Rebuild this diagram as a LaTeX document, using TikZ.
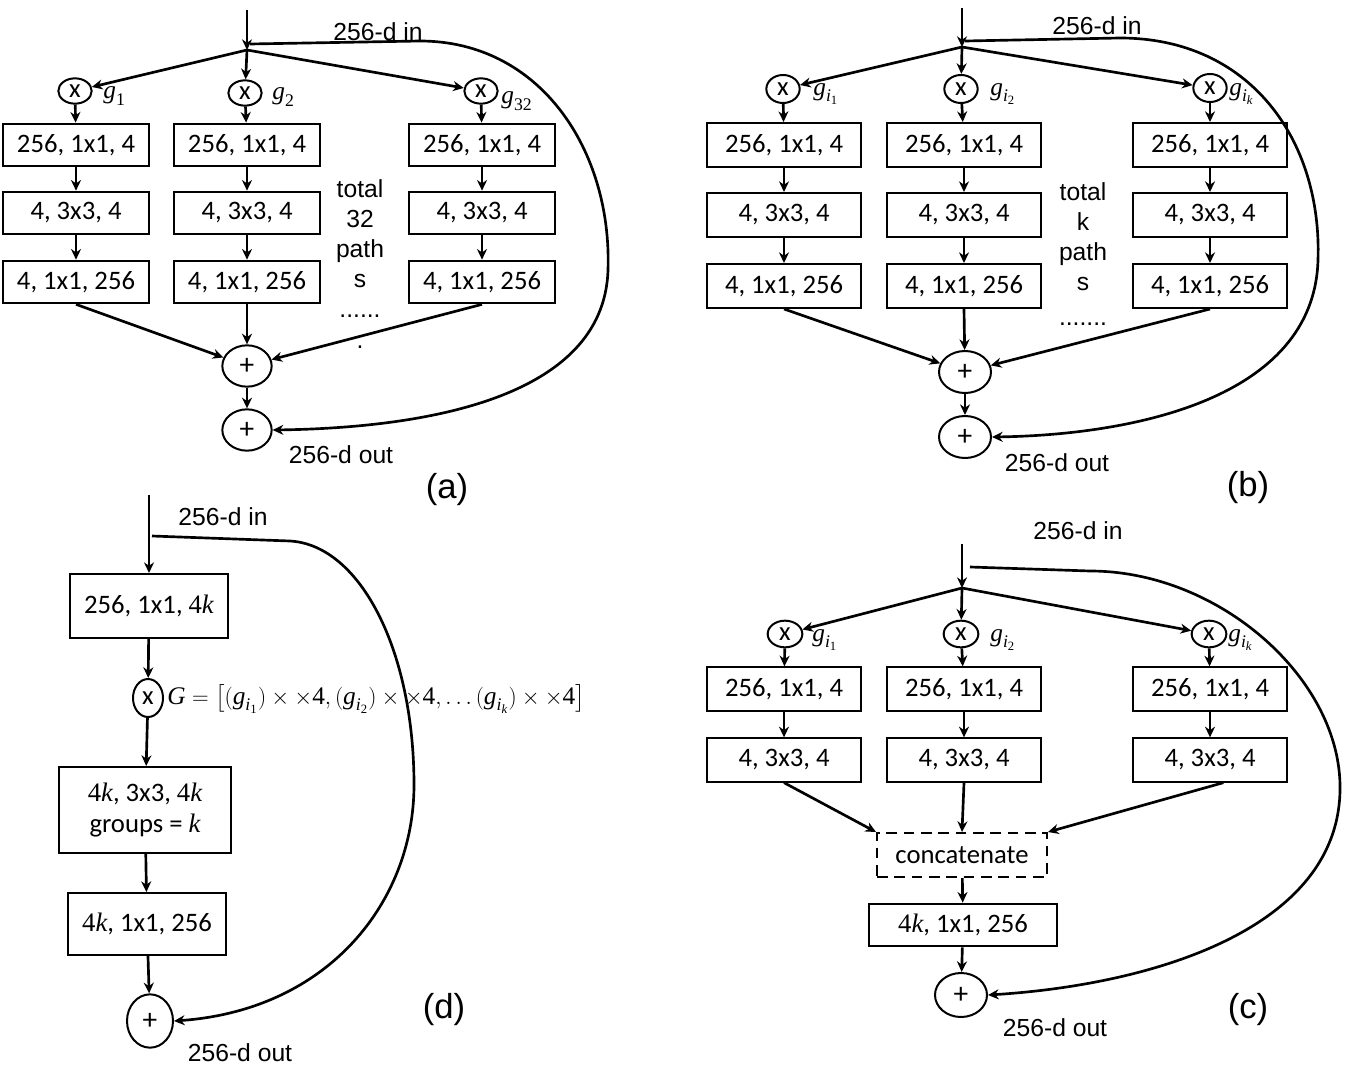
\documentclass[tikz,border=0pt]{standalone}
\usepackage{amsmath}
\usepackage{fontspec}
\setmainfont{Carlito}
\newfontfamily\arialfont{Liberation Sans}
\newfontfamily\serif{Liberation Serif}
\usetikzlibrary{arrows.meta,shapes.geometric}

\newcommand{\boxfont}{\fontsize{20}{23}\selectfont}
\newcommand{\plusfont}{\fontsize{22}{24}\selectfont}
\newcommand{\lblfont}{\arialfont\fontsize{18.5}{22.5}\selectfont}
\newcommand{\capfont}{\arialfont\fontsize{26}{30}\selectfont}
% italic letters and upright digits in the serif face
\newcommand{\iv}[1]{\text{\serif\itshape #1}}
\newcommand{\rv}[1]{\text{\serif #1}}

\tikzset{
  layer/.style 2 args={draw, line width=1.5pt, font=\boxfont, inner sep=0pt,
    minimum width=#1, minimum height=#2, align=center},
  gate/.style 2 args={draw, ellipse, line width=1.5pt, font=\boxfont, inner sep=0pt,
    minimum width=#1, minimum height=#2},
  add/.style 2 args={draw, ellipse, line width=1.5pt, font=\plusfont, inner sep=0pt,
    minimum width=#1, minimum height=#2},
  lbl/.style={font=\lblfont, inner sep=0pt},
  glbl/.style={font=\fontsize{19}{22}\selectfont, inner sep=0pt, anchor=west},
}

\begin{document}
\begin{tikzpicture}[x=0.75pt,y=-0.75pt,->,>={Stealth[length=8pt,width=7.5pt]},line width=2pt]
    \useasboundingbox (0,0) rectangle (1345,1081);

    % (a) Nodes
    \coordinate (inA) at (247,10);
    \coordinate (brA) at (247,50);
    \coordinate (skA) at (250,44);
    \node[lbl] (inlA) at (378,32) {256-d in};
    \node[gate={25pt}{19pt}] (xa1) at (75,91) {x};
    \node[gate={25pt}{19pt}] (xa2) at (245,93) {x};
    \node[gate={25pt}{19pt}] (xa3) at (481,91) {x};
    \node[glbl] (ga1) at (102,96) {$\iv{g}_{\rv{1}}$};
    \node[glbl] (ga2) at (271,97) {$\iv{g}_{\rv{2}}$};
    \node[glbl] (ga3) at (500,101) {$\iv{g}_{\rv{32}}$};

    \node[layer={109pt}{32pt}] (a11) at (76,145) {256, 1x1, 4};
    \node[layer={109pt}{32pt}] (a12) at (247,145) {256, 1x1, 4};
    \node[layer={109pt}{32pt}] (a13) at (482,145) {256, 1x1, 4};
    \node[layer={109pt}{32pt}] (a21) at (76,213) {4, 3x3, 4};
    \node[layer={109pt}{32pt}] (a22) at (247,213) {4, 3x3, 4};
    \node[layer={109pt}{32pt}] (a23) at (482,213) {4, 3x3, 4};
    \node[layer={109pt}{32pt}] (a31) at (76,282) {4, 1x1, 256};
    \node[layer={109pt}{32pt}] (a32) at (247,282) {4, 1x1, 256};
    \node[layer={109pt}{32pt}] (a33) at (482,282) {4, 1x1, 256};
    \node[lbl, align=center] (totA) at (360,234) {total\\32\\path\\s};
    \node[lbl] (dotA1) at (360,316) {......};
    \node[lbl] (dotA2) at (360,347) {.};

    \node[add={37pt}{31pt}] (pa1) at (247,366) {+};
    \node[add={37pt}{31pt}] (pa2) at (247,430) {+};
    \node[lbl] (outA) at (341,455) {256-d out};
    \node[font=\capfont] (capA) at (447,490) {(a)};

    % (a) Arrows
    \draw (inA) -- (brA);
    \draw (brA) -- (xa1);
    \draw (brA) -- (xa2);
    \draw (brA) -- (xa3);
    \draw (xa1) -- (a11);
    \draw (xa2) -- (a12);
    \draw (xa3) -- (a13);
    \draw (a11) -- (a21);
    \draw (a12) -- (a22);
    \draw (a13) -- (a23);
    \draw (a21) -- (a31);
    \draw (a22) -- (a32);
    \draw (a23) -- (a33);
    \draw (a31.south) -- (pa1);
    \draw (a32.south) -- (pa1);
    \draw (a33.south) -- (pa1);
    \draw (pa1) -- (pa2);
    \draw (skA) -- (420,41) .. controls (540,41) and (612,150) .. (608,270)
      .. controls (604,400) and (420,428) .. (pa2.east);

    % (b) Nodes
    \coordinate (inB) at (962,8);
    \coordinate (brB) at (962,47);
    \coordinate (skB) at (965,41);
    \node[lbl] (inlB) at (1097,26) {256-d in};
    \node[gate={25pt}{21pt}] (xb1) at (783,89) {x};
    \node[gate={25pt}{21pt}] (xb2) at (961,89) {x};
    \node[gate={25pt}{21pt}] (xb3) at (1210,88) {x};
    \node[glbl] (gb1) at (812,94) {$\iv{g}_{\iv{i}_{\rv{1}}}$};
    \node[glbl] (gb2) at (989,94) {$\iv{g}_{\iv{i}_{\rv{2}}}$};
    \node[glbl] (gb3) at (1228,94) {$\iv{g}_{\iv{i}_{\iv{k}}}$};

    \node[layer={115.5pt}{33pt}] (b11) at (784,145) {256, 1x1, 4};
    \node[layer={115.5pt}{33pt}] (b12) at (964,145) {256, 1x1, 4};
    \node[layer={115.5pt}{33pt}] (b13) at (1210,145) {256, 1x1, 4};
    \node[layer={115.5pt}{33pt}] (b21) at (784,215) {4, 3x3, 4};
    \node[layer={115.5pt}{33pt}] (b22) at (964,215) {4, 3x3, 4};
    \node[layer={115.5pt}{33pt}] (b23) at (1210,215) {4, 3x3, 4};
    \node[layer={115.5pt}{33pt}] (b31) at (784,286) {4, 1x1, 256};
    \node[layer={115.5pt}{33pt}] (b32) at (964,286) {4, 1x1, 256};
    \node[layer={115.5pt}{33pt}] (b33) at (1210,286) {4, 1x1, 256};
    \node[lbl, align=center] (totB) at (1083,237) {total\\k\\path\\s};
    \node[lbl] (dotB) at (1083,324) {.......};

    \node[add={39pt}{31.5pt}] (pb1) at (965,372) {+};
    \node[add={39pt}{31.5pt}] (pb2) at (965,437) {+};
    \node[lbl] (outB) at (1057,463) {256-d out};
    \node[font=\capfont] (capB) at (1248,488) {(b)};

    % (b) Arrows
    \draw (inB) -- (brB);
    \draw (brB) -- (xb1);
    \draw (brB) -- (xb2);
    \draw (brB) -- (xb3);
    \draw (xb1) -- (b11);
    \draw (xb2) -- (b12);
    \draw (xb3) -- (b13);
    \draw (b11) -- (b21);
    \draw (b12) -- (b22);
    \draw (b13) -- (b23);
    \draw (b21) -- (b31);
    \draw (b22) -- (b32);
    \draw (b23) -- (b33);
    \draw (b31.south) -- (pb1);
    \draw (b32.south) -- (pb1);
    \draw (b33.south) -- (pb1);
    \draw (pb1) -- (pb2);
    \draw (skB) -- (1120,38) .. controls (1250,38) and (1322,140) .. (1318,260)
      .. controls (1314,400) and (1130,435) .. (pb2.east);

    % (d) Nodes
    \coordinate (inD) at (149,495);
    \coordinate (skD) at (152,536);
    \node[lbl] (inlD) at (223,517) {256-d in};
    \node[layer={118pt}{48pt}] (d1) at (149,606) {256, 1x1, {\serif 4\itshape k}};
    \node[gate={22.5pt}{28.5pt}] (xd) at (148,698) {x};
    \node[glbl] (gd) at (166,699) {$\iv{G}=\big[(\iv{g}_{\iv{i}_{\rv{1}}})\times\times\rv{4},
      (\iv{g}_{\iv{i}_{\rv{2}}})\times\times\rv{4},\ldots(\iv{g}_{\iv{i}_{\iv{k}}})\times\times\rv{4}\big]$};
    \node[layer={129pt}{64.5pt}] (d2) at (145,810) {{\serif 4\itshape k}, 3x3, {\serif 4\itshape k}\\groups = {\serif\itshape k}};
    \node[layer={118.5pt}{46.5pt}] (d3) at (147,924) {{\serif 4\itshape k}, 1x1, 256};
    \node[add={34.5pt}{40pt}] (pd) at (150,1021) {+};
    \node[lbl] (outD) at (240,1053) {256-d out};
    \node[font=\capfont] (capD) at (444,1010) {(d)};

    % (d) Arrows
    \draw (inD) -- (d1);
    \draw (d1) -- (xd);
    \draw (xd) -- (d2);
    \draw (d2) -- (d3);
    \draw (d3) -- (pd);
    \draw (skD) -- (290,541) .. controls (360,545) and (414,650) .. (414,785)
      .. controls (414,900) and (330,1010) .. (pd.east);

    % (c) Nodes
    \coordinate (inC) at (962,544);
    \coordinate (brC) at (962,588);
    \coordinate (skC) at (970,567);
    \node[lbl] (inlC) at (1078,531) {256-d in};
    \node[gate={26pt}{20pt}] (xc1) at (785,634) {x};
    \node[gate={26pt}{20pt}] (xc2) at (961,634) {x};
    \node[gate={26pt}{20pt}] (xc3) at (1209,634) {x};
    \node[glbl] (gc1) at (811,640) {$\iv{g}_{\iv{i}_{\rv{1}}}$};
    \node[glbl] (gc2) at (989,640) {$\iv{g}_{\iv{i}_{\rv{2}}}$};
    \node[glbl] (gc3) at (1227,640) {$\iv{g}_{\iv{i}_{\iv{k}}}$};

    \node[layer={115.5pt}{32.5pt}] (c11) at (784,689) {256, 1x1, 4};
    \node[layer={115.5pt}{32.5pt}] (c12) at (964,689) {256, 1x1, 4};
    \node[layer={115.5pt}{32.5pt}] (c13) at (1210,689) {256, 1x1, 4};
    \node[layer={115.5pt}{32.5pt}] (c21) at (784,760) {4, 3x3, 4};
    \node[layer={115.5pt}{32.5pt}] (c22) at (964,760) {4, 3x3, 4};
    \node[layer={115.5pt}{32.5pt}] (c23) at (1210,760) {4, 3x3, 4};
    \node[layer={127.5pt}{33pt}, dashed, dash pattern=on 8pt off 5pt] (cat) at (962,855) {concatenate};
    \node[layer={141pt}{32pt}] (c3) at (963,925) {{\serif 4\itshape k}, 1x1, 256};
    \node[add={39pt}{33pt}] (pc) at (961,995) {+};
    \node[lbl] (outC) at (1055,1028) {256-d out};
    \node[font=\capfont] (capC) at (1248,1010) {(c)};

    % (c) Arrows
    \draw (inC) -- (brC);
    \draw (brC) -- (xc1);
    \draw (brC) -- (xc2);
    \draw (brC) -- (xc3);
    \draw (xc1) -- (c11);
    \draw (xc2) -- (c12);
    \draw (xc3) -- (c13);
    \draw (c11) -- (c21);
    \draw (c12) -- (c22);
    \draw (c13) -- (c23);
    \draw (c21.south) -- (cat.north west);
    \draw (c22.south) -- (cat.north);
    \draw ([xshift=10pt]c23.south) -- (cat.north east);
    \draw (cat) -- (c3);
    \draw (c3) -- (pc);
    \draw (skC) -- (1090,571) .. controls (1220,571) and (1342,680) .. (1340,790)
      .. controls (1338,930) and (1150,985) .. (pc.east);
\end{tikzpicture}
\end{document}
